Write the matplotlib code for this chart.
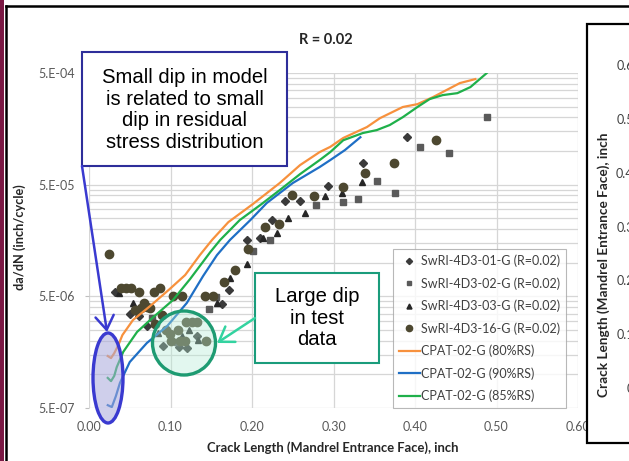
import matplotlib.pyplot as plt
from matplotlib.patches import Rectangle, Ellipse, FancyArrowPatch
from matplotlib.ticker import FixedLocator, NullFormatter

plt.rcParams['font.family'] = ['Lato', 'DejaVu Sans']

# test data: crack length (inch) and da/dN (inch/cycle)
d01_a = [0.032, 0.050, 0.061, 0.071, 0.091, 0.091, 0.110, 0.120, 0.133, 0.163,
         0.172, 0.194, 0.210, 0.225, 0.241, 0.259, 0.293, 0.336, 0.390]
d01_rate = [5.5e-6, 3.5e-6, 3.3e-6, 2.7e-6, 3.4e-6, 1.8e-6, 1.76e-6, 1.72e-6, 2.2e-6, 4.3e-6,
            5.7e-6, 1.6e-5, 1.66e-5, 2.4e-5, 3.6e-5, 3.6e-5, 4.9e-5, 7.8e-5, 1.33e-4]

d02_a = [0.077, 0.108, 0.147, 0.156, 0.201, 0.222, 0.279, 0.312, 0.330, 0.353,
         0.376, 0.406, 0.442, 0.488]
d02_rate = [3.2e-6, 1.95e-6, 3.85e-6, 4.9e-6, 1.27e-5, 1.6e-5, 3.3e-5, 3.5e-5, 3.7e-5, 5.4e-5,
            4.2e-5, 1.09e-4, 9.6e-5, 2.0e-4]

d03_a = [0.037, 0.054, 0.085, 0.114, 0.123, 0.134, 0.157, 0.173, 0.194, 0.214,
         0.231, 0.244, 0.265, 0.290, 0.310, 0.335]
d03_rate = [5.35e-6, 4.4e-6, 2.35e-6, 2.2e-6, 2.5e-6, 2.05e-6, 4.4e-6, 7.3e-6, 9.7e-6, 1.66e-5,
            1.84e-5, 2.5e-5, 2.8e-5, 3.95e-5, 4.2e-5, 5.3e-5]

d16_a = [0.0245, 0.039, 0.045, 0.052, 0.061, 0.056, 0.064, 0.068, 0.071, 0.075,
         0.080, 0.087, 0.081, 0.090, 0.095, 0.099, 0.109, 0.119, 0.126, 0.133,
         0.101, 0.112, 0.118, 0.144, 0.103, 0.114, 0.142, 0.152, 0.166, 0.179,
         0.195, 0.216, 0.233, 0.249, 0.276, 0.312, 0.339, 0.374, 0.426]
d16_rate = [1.2e-5, 5.93e-6, 5.93e-6, 5.93e-6, 5.47e-6, 3.77e-6, 3.93e-6, 4.36e-6, 4.01e-6, 3.93e-6,
            5.47e-6, 5.93e-6, 2.82e-6, 3.4e-6, 2.5e-6, 2.3e-6, 2.5e-6, 2.94e-6, 2.94e-6, 2.94e-6,
            1.99e-6, 1.99e-6, 1.99e-6, 1.99e-6, 5.03e-6, 5.03e-6, 5.03e-6, 5.03e-6, 6.71e-6, 8.6e-6,
            1.33e-5, 2.09e-5, 2.22e-5, 4.04e-5, 3.95e-5, 4.76e-5, 6.35e-5, 7.81e-5, 1.25e-4]

# CPAT-02-G predictions for three residual stress levels
cpat80_a = [0.023, 0.027, 0.031, 0.036, 0.041, 0.054, 0.075, 0.099, 0.118, 0.136,
            0.151, 0.171, 0.201, 0.234, 0.259, 0.283, 0.296, 0.312, 0.341, 0.357,
            0.385, 0.403, 0.422, 0.455, 0.474]
cpat80_rate = [1.46e-6, 1.40e-6, 1.55e-6, 1.83e-6, 2.25e-6, 3.07e-6, 4.09e-6, 5.81e-6, 7.76e-6, 1.17e-5,
               1.60e-5, 2.31e-5, 3.35e-5, 5.17e-5, 7.49e-5, 9.79e-5, 1.09e-4, 1.31e-4, 1.64e-4, 1.97e-4,
               2.48e-4, 2.63e-4, 3.04e-4, 4.06e-4, 4.41e-4]

cpat90_a = [0.023, 0.028, 0.033, 0.038, 0.050, 0.071, 0.096, 0.120, 0.140, 0.157,
            0.173, 0.198, 0.218, 0.250, 0.283, 0.296, 0.314, 0.333]
cpat90_rate = [5.3e-7, 5.1e-7, 6.4e-7, 8.4e-7, 1.29e-6, 1.91e-6, 2.71e-6, 4.36e-6, 7.60e-6, 1.17e-5,
               1.60e-5, 2.41e-5, 3.42e-5, 5.17e-5, 7.19e-5, 8.30e-5, 1.02e-4, 1.33e-4]

cpat85_a = [0.023, 0.027, 0.031, 0.034, 0.042, 0.059, 0.079, 0.103, 0.124, 0.149,
            0.161, 0.185, 0.210, 0.234, 0.259, 0.283, 0.296, 0.312, 0.336, 0.353,
            0.369, 0.385, 0.403, 0.418, 0.434, 0.452, 0.468, 0.488, 0.498]
cpat85_rate = [9.3e-7, 8.7e-7, 9.7e-7, 1.16e-6, 1.59e-6, 2.40e-6, 3.26e-6, 4.63e-6, 7.14e-6, 1.25e-5,
               1.60e-5, 2.41e-5, 3.28e-5, 4.47e-5, 6.22e-5, 8.30e-5, 9.79e-5, 1.25e-4, 1.45e-4, 1.54e-4,
               1.71e-4, 2.01e-4, 2.48e-4, 2.92e-4, 3.17e-4, 3.30e-4, 3.74e-4, 4.99e-4, 5.9e-4]

x_ticks = [0.0, 0.1, 0.2, 0.3, 0.4, 0.5, 0.6]
x_labels = ['0.00', '0.10', '0.20', '0.30', '0.40', '0.50', '0.60']
y_ticks = [5e-7, 5e-6, 5e-5, 5e-4]
y_labels = ['5.E-07', '5.E-06', '5.E-05', '5.E-04']

# neighbouring chart (crack length vs cycles), only its axis shows
side_ticks = [0, 0.1, 0.2, 0.3, 0.4, 0.5, 0.6]
side_labels = ['0', '0.1', '0.2', '0.3', '0.4', '0.5', '0.6']

W, H = 629, 461
fig = plt.figure(figsize=(W / 100, H / 100), dpi=100)
fig.patch.set_facecolor('white')


def fx(px):
    return px / W


def fy(py):
    return 1 - py / H


ax = fig.add_axes([fx(89), fy(408), fx(578) - fx(89), fy(73) - fy(408)])
ax.set_yscale('log')

grey = '#404040'
ax.plot(d01_a, d01_rate, ls='none', marker='D', ms=4.2, color='#3a3a3a', label='SwRI-4D3-01-G (R=0.02)')
ax.plot(d02_a, d02_rate, ls='none', marker='s', ms=4.2, color='#5a5a5a', label='SwRI-4D3-02-G (R=0.02)')
ax.plot(d03_a, d03_rate, ls='none', marker='^', ms=4.8, color='#262626', label='SwRI-4D3-03-G (R=0.02)')
ax.plot(d16_a, d16_rate, ls='none', marker='o', ms=6, color='#4d4830', label='SwRI-4D3-16-G (R=0.02)')
ax.plot(cpat80_a, cpat80_rate, color='#f7913d', lw=1.6, label='CPAT-02-G (80%RS)')
ax.plot(cpat90_a, cpat90_rate, color='#1f6fc5', lw=1.6, label='CPAT-02-G (90%RS)')
ax.plot(cpat85_a, cpat85_rate, color='#1fb04a', lw=1.6, label='CPAT-02-G (85%RS)')

ax.set_xlim(0, 0.6)
ax.set_ylim(5e-7, 5e-4)
ax.xaxis.set_major_locator(FixedLocator(x_ticks))
ax.set_xticklabels(x_labels)
ax.yaxis.set_major_locator(FixedLocator(y_ticks))
ax.yaxis.set_minor_locator(FixedLocator([m * k for m in y_ticks[:-1] for k in range(2, 10)]))
ax.yaxis.set_minor_formatter(NullFormatter())
ax.set_yticklabels(y_labels)
ax.grid(which='major', color='#d6d6d6', lw=0.9)
ax.grid(which='minor', axis='y', color='#d6d6d6', lw=0.9)
ax.set_axisbelow(True)
for s in ax.spines.values():
    s.set_visible(False)
ax.tick_params(axis='x', length=0, pad=9, labelsize=9, labelcolor='#595959')
ax.tick_params(axis='y', which='major', length=3, color='#bfbfbf', pad=7, labelsize=9, labelcolor='#595959')
ax.tick_params(axis='y', which='minor', length=0)

leg = ax.legend(loc='lower right', bbox_to_anchor=(0.975, 0.0), fontsize=9, frameon=True,
                fancybox=False, edgecolor='#a6a6a6', handlelength=1.7, handletextpad=0.1,
                labelspacing=0.8, borderpad=0.45, borderaxespad=0, markerscale=0.75)
leg.get_frame().set_linewidth(0.8)
for t in leg.get_texts():
    t.set_color(grey)

fig.text(fx(326), fy(40), 'R = 0.02', ha='center', va='center', fontsize=10.5, fontweight='bold', color='#262626')
fig.text(fx(333), fy(448), 'Crack Length (Mandrel Entrance Face), inch', ha='center', va='center',
         fontsize=9.4, fontweight='bold', color='#262626')
fig.text(fx(20), fy(237), 'da/dN (inch/cycle)', ha='center', va='center', rotation=90,
         fontsize=9.2, fontweight='bold', color='#262626')

# slide frame
fig.add_artist(Rectangle((0, 0), fx(4), 1, transform=fig.transFigure, fc='#7b1a45', ec='none', zorder=5))
fig.add_artist(plt.Line2D([fx(6.5), fx(6.5)], [0, fy(6)], transform=fig.transFigure, color='black', lw=1.8, zorder=5))
fig.add_artist(plt.Line2D([fx(6.5), 1], [fy(6), fy(6)], transform=fig.transFigure, color='black', lw=1.8, zorder=5))

# neighbouring chart box
fig.add_artist(Rectangle((fx(587), fy(443)), fx(80), fy(24) - fy(443), transform=fig.transFigure,
                         fc='white', ec='black', lw=1.6, zorder=5))
ax2 = fig.add_axes([fx(642), fy(388), 0.2, fy(65) - fy(388)], zorder=6)
ax2.patch.set_visible(False)
ax2.set_ylim(0, 0.6)
ax2.yaxis.set_major_locator(FixedLocator(side_ticks))
ax2.set_yticklabels(side_labels)
ax2.set_xticks([])
for s in ax2.spines.values():
    s.set_visible(False)
ax2.tick_params(axis='y', length=0, pad=6, labelsize=9, labelcolor=grey)
fig.text(fx(604), fy(265), 'Crack Length (Mandrel Entrance Face), inch', ha='center', va='center',
         rotation=90, fontsize=9.8, fontweight='bold', color='#262626', zorder=7)

# callout: model dip
blue = '#3a3ad0'
fig.add_artist(Ellipse((fx(108), fy(378)), fx(30), 90 / H, transform=fig.transFigure,
                       fc='#a9a9dc', alpha=0.55, ec='none', zorder=6))
fig.add_artist(Ellipse((fx(108), fy(378)), fx(30), 90 / H, transform=fig.transFigure,
                       fc='none', ec=blue, lw=2.4, zorder=6))
fig.add_artist(Rectangle((fx(82), fy(166)), fx(205), 114 / H, transform=fig.transFigure,
                         fc='white', ec='#2e2e9a', lw=1.5, zorder=6))
fig.text(fx(184.5), fy(110), 'Small dip in model\nis related to small\ndip in residual\nstress distribution',
         ha='center', va='center', fontsize=14.6, family='Liberation Sans', linespacing=1.16, zorder=7)
fig.add_artist(FancyArrowPatch((fx(82), fy(166)), (fx(107), fy(332)), transform=fig.transFigure,
                               arrowstyle='->,head_length=0.45,head_width=0.3', mutation_scale=22,
                               color=blue, lw=1.8, shrinkA=0, shrinkB=0, zorder=6))

# callout: test data dip
fig.add_artist(Ellipse((fx(184), fy(343)), fx(63), 64 / H, transform=fig.transFigure,
                       fc='#b5ecd5', alpha=0.38, ec='none', zorder=6))
fig.add_artist(Ellipse((fx(184), fy(343)), fx(63), 64 / H, transform=fig.transFigure,
                       fc='none', ec='#1e9b72', lw=2.4, zorder=6))
fig.add_artist(Rectangle((fx(255), fy(363)), fx(124), 90 / H, transform=fig.transFigure,
                         fc='white', ec='#1a9c7b', lw=1.5, zorder=6))
fig.text(fx(317), fy(318), 'Large dip\nin test\ndata', ha='center', va='center', fontsize=14.6,
         family='Liberation Sans', linespacing=1.16, zorder=7)
fig.add_artist(FancyArrowPatch((fx(255), fy(318)), (fx(217), fy(343)), transform=fig.transFigure,
                               arrowstyle='->,head_length=0.45,head_width=0.3', mutation_scale=22,
                               color='#33d3a0', lw=1.8, shrinkA=0, shrinkB=0, zorder=6))

fig.savefig('out.png', dpi=100)
